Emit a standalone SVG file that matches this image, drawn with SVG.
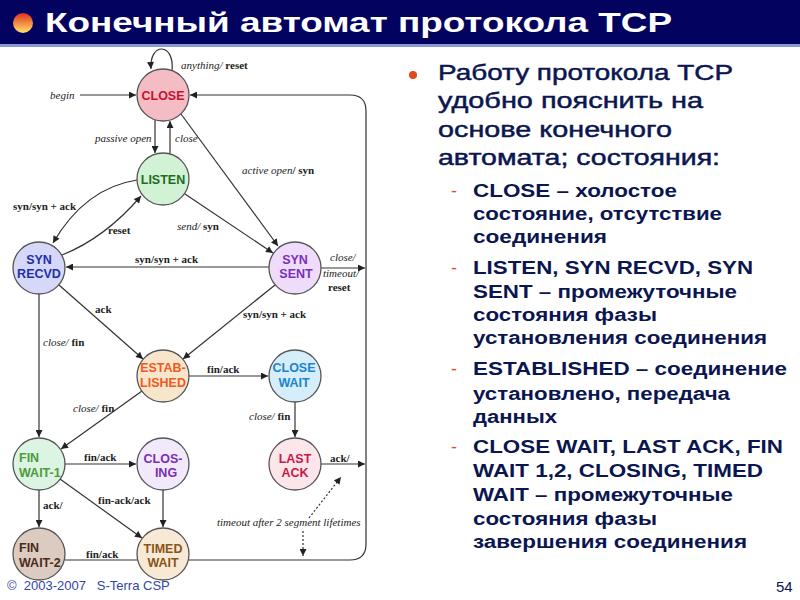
<svg xmlns="http://www.w3.org/2000/svg" width="800" height="600" viewBox="0 0 800 600">
<defs>
<linearGradient id="tb" x1="0" y1="0" x2="0" y2="1"><stop offset="0" stop-color="#e0301c"/><stop offset="1" stop-color="#ffe46a"/></linearGradient>
<marker id="ah" viewBox="0 0 10 10" refX="10" refY="5" markerWidth="9" markerHeight="7" markerUnits="userSpaceOnUse" orient="auto"><path d="M0,0 L10,5 L0,10 Z" fill="#222"/></marker>
<style>
.st{stroke:#555;stroke-width:1.3}
.nt{font-family:"Liberation Sans",Arial,sans-serif;font-weight:bold;font-size:12.5px;text-anchor:middle}
.e{fill:none;stroke:#333;stroke-width:1.2}
.ea{fill:none;stroke:#333;stroke-width:1.2;marker-end:url(#ah)}
.dot{fill:none;stroke:#333;stroke-width:1.2;stroke-dasharray:2 2}
.lbl{font-family:"Liberation Serif","Times New Roman",serif;font-size:11px;fill:#222}
.i{font-style:italic}
.b{font-weight:bold}
.mt{font-family:"Liberation Sans",Arial,sans-serif;font-size:21.5px;fill:#0b1650;stroke:#0b1650;stroke-width:0.45}
.st2{font-family:"Liberation Sans",Arial,sans-serif;font-size:18px;font-weight:bold;fill:#0b1650}
.dash{fill:#e05020;font-family:"Liberation Sans",Arial,sans-serif;font-size:18px}
</style>
</defs>
<rect x="0" y="0" width="800" height="600" fill="#fff"/>
<rect x="0" y="0" width="800" height="44" fill="#03035f"/>
<rect x="0" y="44" width="800" height="3" fill="#8a96d8"/>
<circle cx="23" cy="23" r="10" fill="url(#tb)"/>
<text x="45" y="32" font-family="Liberation Sans,Arial,sans-serif" font-size="27" font-weight="bold" fill="#fff" textLength="627" lengthAdjust="spacingAndGlyphs">Конечный автомат протокола TCP</text>

<g id="edges">
<path class="ea" d="M172,71 C175,42 149,42 151,69"/>
<path class="ea" d="M80,95 H136"/>
<path class="ea" d="M189,560 H350 Q366,560 366,544 V111 Q366,95 350,95 H190"/>
<path class="ea" d="M155,120 V153"/>
<path class="ea" d="M170,154 V121"/>
<path class="ea" d="M181,114 L278,246"/>
<path class="ea" d="M185,194 L273,253"/>
<path class="ea" d="M137,180 Q85,188 53,243"/>
<path class="ea" d="M62,255 Q105,238 141,196"/>
<path class="ea" d="M269,267 H66"/>
<path class="ea" d="M321,268 H365"/>
<path class="ea" d="M59,285 L143,359"/>
<path class="ea" d="M275,285 L183,359"/>
<path class="ea" d="M39,294 V437"/>
<path class="ea" d="M189,376 H268"/>
<path class="ea" d="M142,391 L61,449"/>
<path class="ea" d="M295,402 V437"/>
<path class="ea" d="M65,464 H136"/>
<path class="ea" d="M39,490 V527"/>
<path class="ea" d="M60,479 L142,538"/>
<path class="ea" d="M163,490 V527"/>
<path class="e" d="M65,560 H138"/>
<path class="ea" d="M321,464 H365"/>
<path class="dot" d="M309,518 L341,477" marker-end="url(#ah)"/>
<path class="dot" d="M303,531 V556" marker-end="url(#ah)"/>
<text class="lbl" x="181" y="69"><tspan class="i">anything/</tspan><tspan class="b"> reset</tspan></text>
<text class="lbl i" x="50" y="99">begin</text>
<text class="lbl i" x="95" y="142">passive open</text>
<text class="lbl i" x="175" y="142">close</text>
<text class="lbl" x="242" y="174"><tspan class="i">active open</tspan><tspan class="b">/ syn</tspan></text>
<text class="lbl b" x="13" y="210">syn/syn + ack</text>
<text class="lbl b" x="108" y="234">reset</text>
<text class="lbl" x="177" y="230"><tspan class="i">send/</tspan><tspan class="b"> syn</tspan></text>
<text class="lbl b" x="135" y="263">syn/syn + ack</text>
<text class="lbl i" x="330" y="261">close/</text>
<text class="lbl i" x="323" y="277">timeout/</text>
<text class="lbl b" x="328" y="291">reset</text>
<text class="lbl b" x="95" y="313">ack</text>
<text class="lbl b" x="243" y="318">syn/syn + ack</text>
<text class="lbl" x="43" y="346"><tspan class="i">close/</tspan><tspan class="b"> fin</tspan></text>
<text class="lbl b" x="207" y="373">fin/ack</text>
<text class="lbl" x="73" y="412"><tspan class="i">close/</tspan><tspan class="b"> fin</tspan></text>
<text class="lbl" x="249" y="420"><tspan class="i">close/</tspan><tspan class="b"> fin</tspan></text>
<text class="lbl b" x="84" y="461">fin/ack</text>
<text class="lbl b" x="330" y="462">ack/</text>
<text class="lbl b" x="43" y="509">ack/</text>
<text class="lbl b" x="98" y="504">fin-ack/ack</text>
<text class="lbl i" x="217" y="526" font-size="10.5">timeout after 2 segment lifetimes</text>
<text class="lbl b" x="86" y="558">fin/ack</text>
</g>

<g id="n-close"><circle class="st" cx="163" cy="95" r="26" fill="#f4bcc4"/><text class="nt" x="163" y="100" fill="#c8102e">CLOSE</text></g>
<g id="n-listen"><circle class="st" cx="163" cy="179" r="26" fill="#d2f2d6"/><text class="nt" x="163" y="184" fill="#1e6e1e">LISTEN</text></g>
<g id="n-synrecvd"><circle class="st" cx="39" cy="268" r="26" fill="#d6d8fa"/><text class="nt" x="39" y="264" fill="#1f2fa8">SYN</text><text class="nt" x="39" y="278" fill="#1f2fa8">RECVD</text></g>
<g id="n-synsent"><circle class="st" cx="295" cy="268" r="26" fill="#eedcfa"/><text class="nt" x="295" y="264" fill="#7b2fbe">SYN</text><text class="nt" x="296" y="278" fill="#7b2fbe">SENT</text></g>
<g id="n-estab"><circle class="st" cx="163" cy="376" r="26" fill="#f8e6cc"/><text class="nt" x="163" y="372" fill="#f05a22">ESTAB-</text><text class="nt" x="163" y="387" fill="#f05a22">LISHED</text></g>
<g id="n-closewait"><circle class="st" cx="295" cy="376" r="26" fill="#d6eefa"/><text class="nt" x="294" y="372" fill="#1a84d0">CLOSE</text><text class="nt" x="294" y="387" fill="#1a84d0">WAIT</text></g>
<g id="n-finwait1"><circle class="st" cx="39" cy="464" r="26" fill="#dcf4e2"/><text class="nt" x="19" y="462" fill="#4c9a3c" style="text-anchor:start">FIN</text><text class="nt" x="19" y="477" fill="#4c9a3c" style="text-anchor:start">WAIT-1</text></g>
<g id="n-closing"><circle class="st" cx="163" cy="464" r="26" fill="#f2eafc"/><text class="nt" x="163" y="463" fill="#7a2db6">CLOS-</text><text class="nt" x="166" y="477" fill="#7a2db6">ING</text></g>
<g id="n-lastack"><circle class="st" cx="295" cy="464" r="26" fill="#fce6ea"/><text class="nt" x="295" y="463" fill="#c8184a">LAST</text><text class="nt" x="295" y="477" fill="#c8184a">ACK</text></g>
<g id="n-finwait2"><circle class="st" cx="39" cy="554" r="26" fill="#dccbc0"/><text class="nt" x="19" y="552" fill="#4a2c1c" style="text-anchor:start">FIN</text><text class="nt" x="19" y="567" fill="#4a2c1c" style="text-anchor:start">WAIT-2</text></g>
<g id="n-timedwait"><circle class="st" cx="163" cy="554" r="26" fill="#f8e8d6"/><text class="nt" x="163" y="553" fill="#8a5418">TIMED</text><text class="nt" x="163" y="567" fill="#8a5418">WAIT</text></g>

<g id="text-right">
<circle cx="413" cy="75" r="4" fill="#e04a1c"/>
<text class="mt" x="438" y="80" textLength="295" lengthAdjust="spacingAndGlyphs">Работу протокола TCP</text>
<text class="mt" x="438" y="108" textLength="265" lengthAdjust="spacingAndGlyphs">удобно пояснить на</text>
<text class="mt" x="438" y="137" textLength="234" lengthAdjust="spacingAndGlyphs">основе конечного</text>
<text class="mt" x="438" y="165" textLength="282" lengthAdjust="spacingAndGlyphs">автомата; состояния:</text>
<text class="dash" x="451" y="197">-</text>
<text class="st2" x="473" y="197" textLength="204" lengthAdjust="spacingAndGlyphs">CLOSE – холостое</text>
<text class="st2" x="473" y="220" textLength="249" lengthAdjust="spacingAndGlyphs">состояние, отсутствие</text>
<text class="st2" x="473" y="243" textLength="134" lengthAdjust="spacingAndGlyphs">соединения</text>
<text class="dash" x="451" y="274">-</text>
<text class="st2" x="473" y="274" textLength="280" lengthAdjust="spacingAndGlyphs">LISTEN, SYN RECVD, SYN</text>
<text class="st2" x="473" y="298" textLength="264" lengthAdjust="spacingAndGlyphs">SENT – промежуточные</text>
<text class="st2" x="473" y="321" textLength="184" lengthAdjust="spacingAndGlyphs">состояния фазы</text>
<text class="st2" x="473" y="344" textLength="294" lengthAdjust="spacingAndGlyphs">установления соединения</text>
<text class="dash" x="451" y="375">-</text>
<text class="st2" x="473" y="375" textLength="314" lengthAdjust="spacingAndGlyphs">ESTABLISHED – соединение</text>
<text class="st2" x="473" y="400" textLength="257" lengthAdjust="spacingAndGlyphs">установлено, передача</text>
<text class="st2" x="473" y="423" textLength="84" lengthAdjust="spacingAndGlyphs">данных</text>
<text class="dash" x="451" y="453">-</text>
<text class="st2" x="473" y="453" textLength="310" lengthAdjust="spacingAndGlyphs">CLOSE WAIT, LAST ACK, FIN</text>
<text class="st2" x="473" y="477" textLength="290" lengthAdjust="spacingAndGlyphs">WAIT 1,2, CLOSING, TIMED</text>
<text class="st2" x="473" y="501" textLength="260" lengthAdjust="spacingAndGlyphs">WAIT – промежуточные</text>
<text class="st2" x="473" y="525" textLength="184" lengthAdjust="spacingAndGlyphs">состояния фазы</text>
<text class="st2" x="473" y="548" textLength="274" lengthAdjust="spacingAndGlyphs">завершения соединения</text>
</g>
<text x="7" y="590" font-family="Liberation Sans,Arial,sans-serif" font-size="13" fill="#3344a8" xml:space="preserve">©  2003-2007   S-Terra CSP</text>
<text x="776" y="592" font-family="Liberation Sans,Arial,sans-serif" font-size="15" fill="#0b1650">54</text>
</svg>
